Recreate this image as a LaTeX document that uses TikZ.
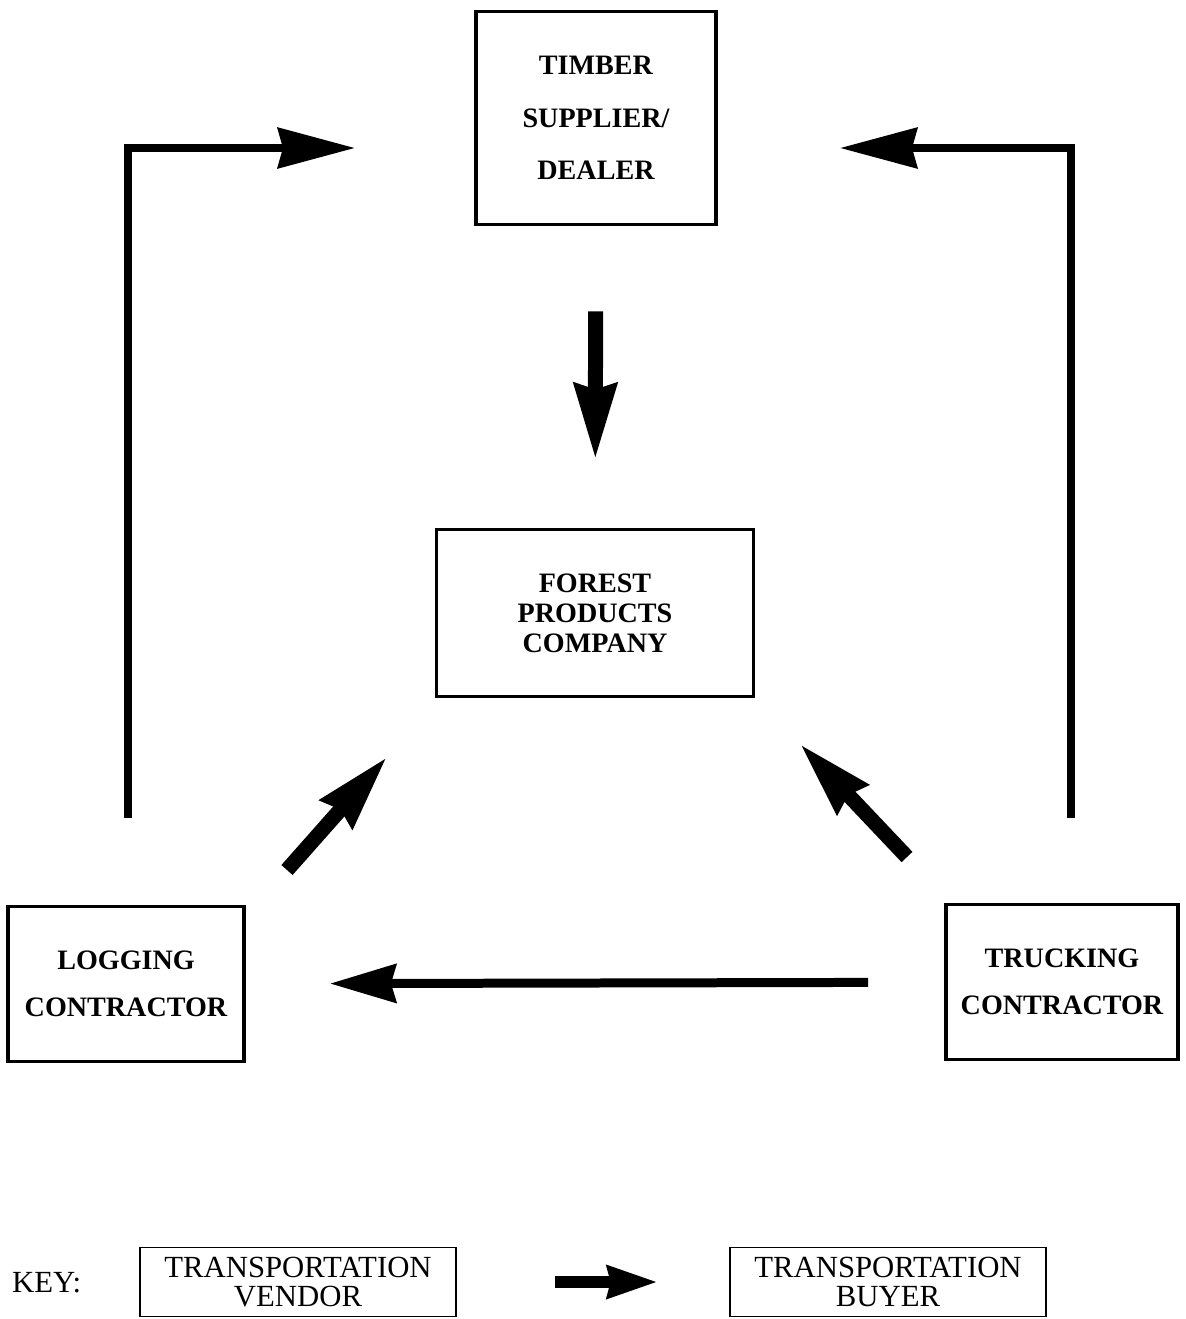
\documentclass[tikz,border=0pt]{standalone}
\usepackage{fontspec}
\setmainfont{Liberation Serif}
\usetikzlibrary{arrows.meta}

\begin{document}
\begin{tikzpicture}[x=0.02cm, y=-0.02cm,
	box/.style={draw, line width=2.2pt, align=center, inner sep=0pt, font=\fontsize{16}{17}\selectfont\bfseries},
	keybox/.style={draw, line width=1pt, align=center, inner sep=0pt, minimum width=6.32cm, minimum height=1.38cm, font=\fontsize{17.5}{16.5}\selectfont},
	fl/.style={-{Stealth[length=1.54cm, width=0.8cm, inset=0.1cm]}, line width=0.16cm},
	fl2/.style={-{Stealth[length=1.32cm, width=0.76cm, inset=0.1cm]}, line width=0.18cm},
	fat/.style={-{Stealth[length=1.5cm, width=0.82cm, inset=0.1cm]}, line width=0.3cm},
	keyfl/.style={-{Stealth[length=1.0cm, width=0.62cm, inset=0.05cm]}, line width=0.24cm}]

	\useasboundingbox (0,0) rectangle (1186,1319);

	% --- companies ---
	\node[box, minimum width=4.8cm, minimum height=4.26cm] (timber) at (596,118) {TIMBER\\[13pt]SUPPLIER/\\[13pt]DEALER};
	\node[box, minimum width=6.34cm, minimum height=3.34cm] (forest) at (595,613) {FOREST\\PRODUCTS\\COMPANY};
	\node[box, minimum width=4.72cm, minimum height=3.1cm] (logging) at (126,984) {LOGGING\\[9.7pt]CONTRACTOR};
	\node[box, minimum width=4.64cm, minimum height=3.1cm] (trucking) at (1062,982) {TRUCKING\\[9.7pt]CONTRACTOR};

	% --- flows ---
	\coordinate (lfoot) at (128,818); \coordinate (ltip) at (355,148);
	\coordinate (rfoot) at (1071,818); \coordinate (rtip) at (840,148);
	\draw[fl] (lfoot) |- (ltip);
	\draw[fl] (rfoot) |- (rtip);
	\draw[fat, shorten <=1.7cm, shorten >=1.36cm] (timber) -- (forest);
	\coordinate (dl0) at (287,870); \coordinate (dl1) at (387,757);
	\coordinate (dr0) at (907,857); \coordinate (dr1) at (800,744);
	\draw[fat] (dl0) -- (dl1);
	\draw[fat] (dr0) -- (dr1);
	\draw[fl2, shorten <=1.52cm, shorten >=1.68cm] (trucking) -- (logging);

	% --- key ---
	\node[font=\fontsize{17.5}{18}\selectfont, anchor=west] (key) at (6,1283) {KEY:};
	\node[keybox] (vendor) at (298,1282) {TRANSPORTATION\\VENDOR};
	\node[keybox] (buyer) at (888,1282) {TRANSPORTATION\\BUYER};
	\draw[keyfl, shorten <=1.96cm, shorten >=1.42cm] (vendor) -- (buyer);
\end{tikzpicture}
\end{document}
